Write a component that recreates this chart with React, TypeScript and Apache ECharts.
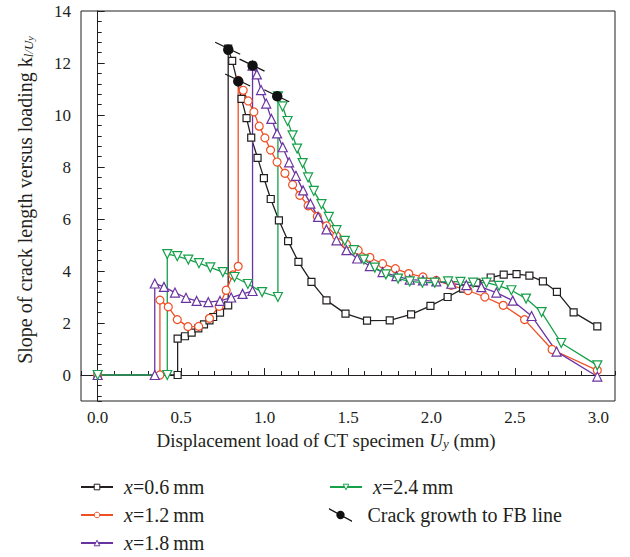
import React, { useEffect, useRef } from "react";
import * as echarts from "echarts";

const FONT = "Liberation Serif, Times New Roman, serif";

// x = 0.6 mm (black squares)
const s06: [number, number][] = [
  [0, 0], [0.479, 0], [0.479, 1.4], [0.523, 1.49], [0.563, 1.63], [0.603, 1.79], [0.637, 1.95],
  [0.67, 2.1], [0.692, 2.23], [0.733, 2.4], [0.782, 2.68], [0.782, 12.55], [0.806, 12.08],
  [0.862, 10.62], [0.892, 9.88], [0.92, 9.13], [0.958, 8.35], [0.996, 7.57], [1.037, 6.77],
  [1.086, 5.95], [1.141, 5.15], [1.203, 4.35], [1.281, 3.58], [1.371, 2.87], [1.485, 2.36],
  [1.614, 2.09], [1.75, 2.1], [1.878, 2.33], [1.994, 2.66], [2.097, 3.0], [2.19, 3.32],
  [2.27, 3.55], [2.355, 3.75], [2.433, 3.86], [2.51, 3.88], [2.587, 3.82], [2.668, 3.6],
  [2.752, 3.2], [2.852, 2.41], [2.994, 1.87],
];

// x = 1.2 mm (red circles)
const s12: [number, number][] = [
  [0, 0], [0.373, 0], [0.373, 2.88], [0.423, 2.62], [0.477, 2.13], [0.541, 1.86], [0.605, 1.87],
  [0.67, 2.18], [0.728, 2.64], [0.77, 3.26], [0.81, 3.85], [0.842, 4.18], [0.842, 11.33],
  [0.872, 10.95], [0.902, 10.54], [0.936, 10.12], [0.968, 9.57], [1.002, 9.12], [1.036, 8.65],
  [1.075, 8.19], [1.122, 7.76], [1.168, 7.32], [1.211, 6.91], [1.261, 6.51], [1.316, 6.1],
  [1.371, 5.73], [1.431, 5.35], [1.491, 5.03], [1.561, 4.8], [1.631, 4.52], [1.707, 4.28],
  [1.784, 4.09], [1.864, 3.9], [1.949, 3.77], [2.029, 3.64], [2.119, 3.45], [2.219, 3.25],
  [2.32, 3.0], [2.43, 2.68], [2.558, 2.13], [2.723, 0.98], [2.994, 0.18],
];

// x = 1.8 mm (purple triangles)
const s18: [number, number][] = [
  [0, 0], [0.342, 0], [0.342, 3.52], [0.397, 3.39], [0.463, 3.17], [0.529, 2.97], [0.593, 2.85],
  [0.663, 2.8], [0.733, 2.85], [0.8, 2.98], [0.868, 3.12], [0.928, 3.23], [0.928, 11.9],
  [0.954, 11.56], [0.979, 10.96], [1.01, 10.44], [1.041, 9.85], [1.075, 9.29], [1.109, 8.76],
  [1.147, 8.18], [1.188, 7.66], [1.231, 7.1], [1.275, 6.59], [1.321, 6.08], [1.371, 5.6],
  [1.431, 5.18], [1.491, 4.8], [1.555, 4.48], [1.631, 4.19], [1.707, 3.96], [1.79, 3.8],
  [1.87, 3.67], [1.949, 3.64], [2.029, 3.6], [2.119, 3.51], [2.209, 3.46], [2.299, 3.38],
  [2.389, 3.17], [2.487, 2.86], [2.6, 2.27], [2.75, 0.9], [2.994, -0.06],
];

// x = 2.4 mm (green down-triangles)
const s24: [number, number][] = [
  [0, 0], [0.417, 0], [0.417, 4.65], [0.477, 4.57], [0.543, 4.44], [0.607, 4.3], [0.675, 4.14],
  [0.75, 3.96], [0.82, 3.77], [0.9, 3.5], [0.985, 3.19], [1.08, 3.0], [1.08, 10.72],
  [1.108, 10.33], [1.138, 9.77], [1.168, 9.22], [1.195, 8.71], [1.228, 8.15], [1.261, 7.6],
  [1.295, 7.08], [1.341, 6.57], [1.385, 6.08], [1.431, 5.57], [1.481, 5.16], [1.535, 4.8],
  [1.595, 4.44], [1.661, 4.13], [1.727, 3.87], [1.8, 3.71], [1.87, 3.6], [1.946, 3.55],
  [2.02, 3.55], [2.1, 3.6], [2.174, 3.58], [2.25, 3.55], [2.33, 3.55], [2.405, 3.43],
  [2.479, 3.26], [2.567, 2.94], [2.66, 2.42], [2.778, 1.23], [2.994, 0.37],
];

// Crack growth to FB line points
const fbPoints: [number, number][] = [
  [0.782, 12.55], [0.842, 11.33], [0.928, 11.9], [1.076, 10.72],
];

const seriesNames = ["x=0.6\u2009mm", "x=1.2\u2009mm", "x=1.8\u2009mm", "x=2.4\u2009mm"];
const fbName = "Crack growth to FB line";

const FB_ICON =
  "path://M0,0.3 L22,12.3 L22,13.7 L0,1.7 Z M7,7 A4,4 0 1,1 15,7 A4,4 0 1,1 7,7 Z";

export default function App() {
  const ref = useRef<HTMLDivElement>(null);
  useEffect(() => {
    if (!ref.current) return;
    const chart = echarts.init(ref.current, undefined, { renderer: "svg" });
    const axisColor = "#231f20";
    const lineSeries = (
      name: string,
      data: [number, number][],
      color: string,
      symbol: string,
      size: number,
      rotate = 0
    ) => ({
      type: "line",
      name,
      data,
      symbol,
      symbolSize: size,
      symbolRotate: rotate,
      showAllSymbol: true,
      lineStyle: { color, width: 1.3 },
      itemStyle: { color: "#fff", borderColor: color, borderWidth: 1.2 },
      emphasis: { disabled: true },
      z: 3,
    });
    const legendText = {
      fontFamily: FONT,
      fontSize: 20,
      lineHeight: 20,
      color: axisColor,
      padding: [0, 0, 0, 6],
      rich: { i: { fontStyle: "italic", fontFamily: FONT, fontSize: 20, lineHeight: 20 } },
    };
    const fmt = (n: string) => n.replace(/^x/, "{i|x}");
    const tickRich = { t: { fontFamily: FONT, fontSize: 17, color: axisColor } };
    chart.setOption({
      animation: false,
      backgroundColor: "#fff",
      textStyle: { fontFamily: FONT },
      grid: { left: 81, right: 15, top: 11, bottom: 156, show: true, borderColor: axisColor, borderWidth: 1 },
      legend: [
        {
          orient: "vertical", left: 80, top: 477, padding: 0, itemWidth: 32, itemHeight: 7, itemGap: 8,
          selectedMode: false, data: seriesNames.slice(0, 3), formatter: fmt, textStyle: legendText,
          itemStyle: { borderWidth: 1 },
        },
        {
          orient: "vertical", left: 329, top: 477, padding: 0, itemWidth: 32, itemHeight: 7, itemGap: 8,
          selectedMode: false, data: [seriesNames[3]], formatter: fmt, textStyle: legendText,
          itemStyle: { borderWidth: 1 },
        },
        {
          orient: "vertical", left: 329, top: 505, padding: 0, itemWidth: 32, itemHeight: 14, itemGap: 8,
          selectedMode: false, data: [{ name: fbName, icon: FB_ICON }], textStyle: legendText,
        },
      ],
      xAxis: [
        {
          type: "value", min: -0.1, max: 3.1, minInterval: 0.5, maxInterval: 0.5, position: "bottom",
          name: "Displacement load of CT specimen {u|U}{s|y} (mm)",
          nameLocation: "middle", nameGap: 25,
          nameTextStyle: {
            fontFamily: FONT, fontSize: 19, color: axisColor, padding: [0, 44, 0, 0],
            rich: {
              u: { fontFamily: FONT, fontSize: 19, fontStyle: "italic" },
              s: { fontFamily: FONT, fontSize: 13, fontStyle: "italic", verticalAlign: "bottom", lineHeight: 13 },
            },
          },
          axisLine: { lineStyle: { color: axisColor, width: 1 } },
          axisTick: { inside: true, length: 7, lineStyle: { color: axisColor } },
          axisLabel: {
            showMinLabel: false, showMaxLabel: false, margin: 8, color: axisColor,
            fontFamily: FONT, fontSize: 17, rich: tickRich,
            formatter: (v: number) => "{t|" + v.toFixed(1) + "}",
          },
          splitLine: { show: false },
        },
        {
          type: "value", min: -0.1, max: 3.1, interval: 0.1, position: "bottom",
          axisLine: { show: false },
          axisTick: { inside: true, length: 4, lineStyle: { color: axisColor } },
          axisLabel: { show: false },
          splitLine: { show: false },
        },
      ],
      yAxis: [
        {
          type: "value", min: -1, max: 14, minInterval: 2, maxInterval: 2, position: "left",
          name: "Slope of crack length versus loading k{s|l/U}{ss|y}",
          nameLocation: "middle", nameGap: 46,
          nameTextStyle: {
            fontFamily: FONT, fontSize: 20, color: axisColor, padding: [0, 0, 0, 12],
            rich: {
              s: { fontFamily: FONT, fontSize: 13, fontStyle: "italic", verticalAlign: "bottom", lineHeight: 13 },
              ss: { fontFamily: FONT, fontSize: 10, fontStyle: "italic", verticalAlign: "bottom", lineHeight: 10, padding: [3, 0, 0, 0] },
            },
          },
          axisLine: { show: true, lineStyle: { color: axisColor, width: 1 } },
          axisTick: { inside: true, length: 7, lineStyle: { color: axisColor } },
          axisLabel: {
            showMinLabel: false, margin: 10, color: axisColor, fontFamily: FONT, fontSize: 17,
            rich: tickRich, formatter: (v: number) => "{t|" + v + "}",
          },
          splitLine: { show: false },
        },
        {
          type: "value", min: -1, max: 14, minInterval: 0.4, maxInterval: 0.4, position: "left",
          axisLine: { show: false },
          axisTick: { inside: true, length: 4, lineStyle: { color: axisColor } },
          axisLabel: { show: false },
          splitLine: { show: false },
        },
      ],
      series: [
        lineSeries(seriesNames[0], s06, "#231f20", "rect", 7),
        lineSeries(seriesNames[1], s12, "#f04e23", "circle", 8),
        lineSeries(seriesNames[2], s18, "#6a34a0", "triangle", 9),
        lineSeries(seriesNames[3], s24, "#16a04a", "triangle", 9, 180),
        {
          type: "custom",
          name: fbName,
          data: fbPoints,
          z: 10,
          itemStyle: { color: "#111" },
          renderItem: (_params: any, api: any) => {
            const p = api.coord([api.value(0), api.value(1)]);
            return {
              type: "group",
              children: [
                {
                  type: "line",
                  shape: { x1: p[0] - 13, y1: p[1] - 6.5, x2: p[0] + 12, y2: p[1] + 5.5 },
                  style: { stroke: "#111", lineWidth: 1.2 },
                },
                { type: "circle", shape: { cx: p[0], cy: p[1], r: 5.2 }, style: { fill: "#111" } },
              ],
            };
          },
        },
      ],
    });
    return () => chart.dispose();
  }, []);
  return (
    <div
      ref={ref}
      style={{ position: "fixed", left: 0, top: 0, width: 630, height: 557, background: "#fff" }}
    />
  );
}
